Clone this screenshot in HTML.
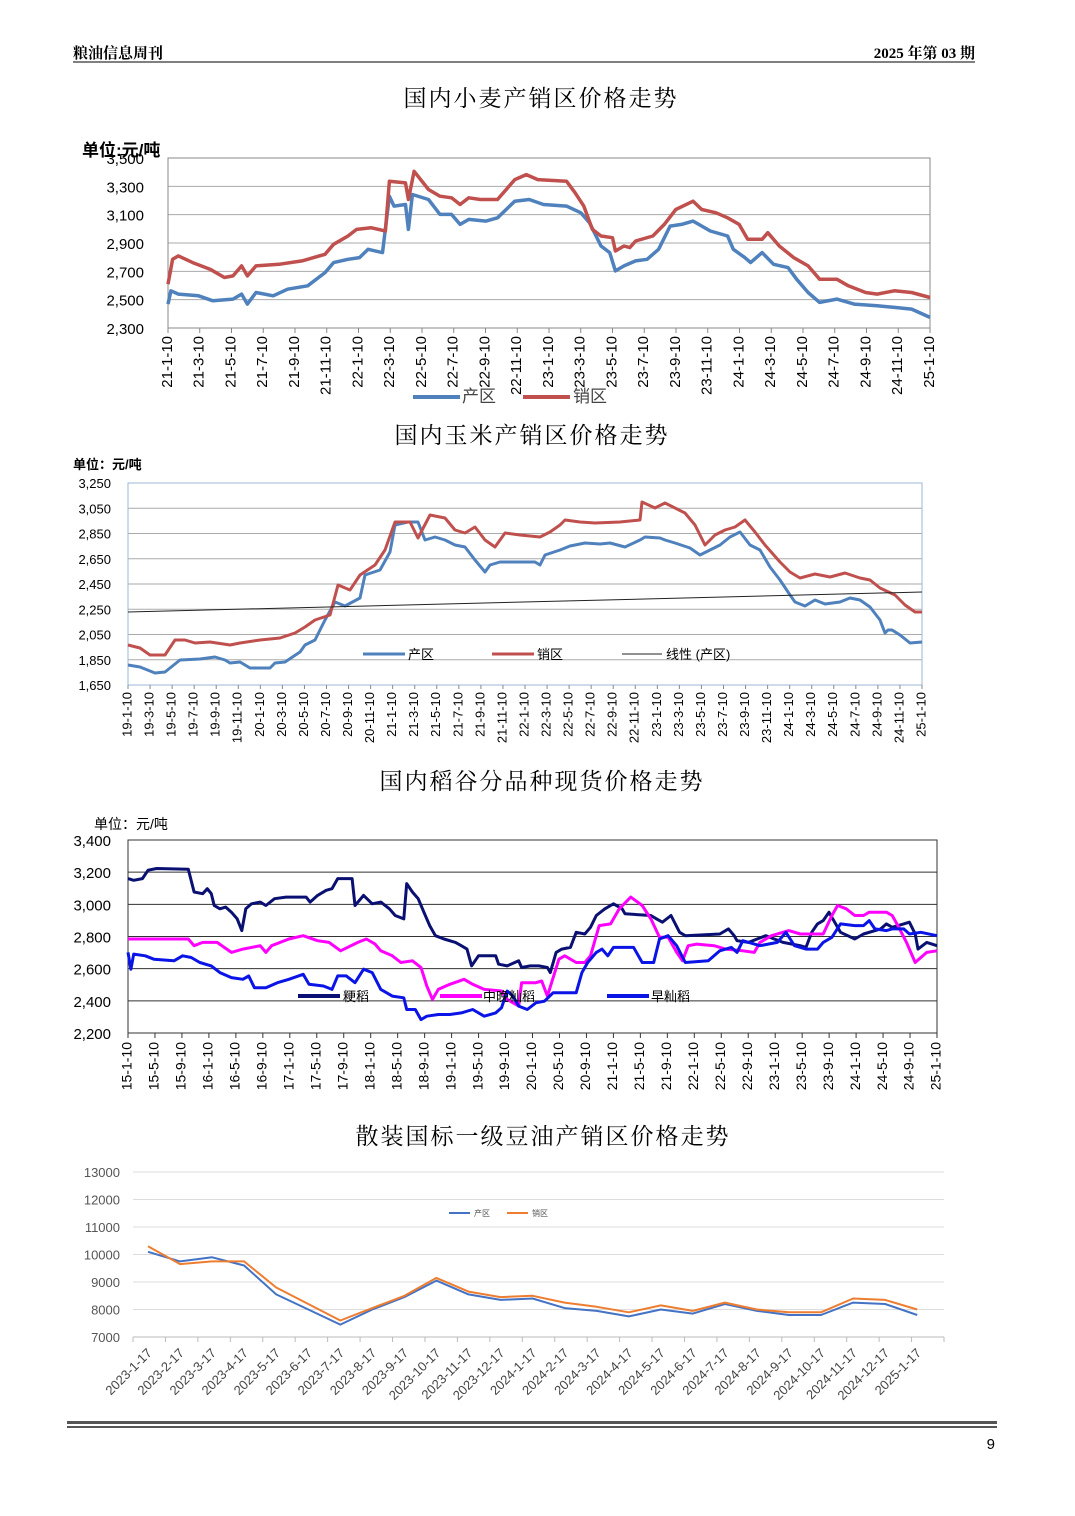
<!DOCTYPE html>
<html><head><meta charset="utf-8">
<style>
html,body{margin:0;padding:0;background:#fff;}
body{width:1075px;height:1516px;position:relative;overflow:hidden;font-family:"Liberation Sans","Noto Sans CJK SC",sans-serif;}
svg{position:absolute;left:0;top:0;}
</style></head><body>
<svg id="s" width="1075" height="1516" xmlns="http://www.w3.org/2000/svg" font-family="Liberation Sans, Noto Sans CJK SC, sans-serif">
<text x="73" y="58" font-size="15" font-weight="bold" font-family="Liberation Serif, Noto Serif CJK SC, serif">粮油信息周刊</text>
<text x="975" y="58" font-size="15" font-weight="bold" text-anchor="end" font-family="Liberation Serif, Noto Serif CJK SC, serif">2025 年第 03 期</text>
<line x1="73" y1="62" x2="975" y2="62" stroke="#000" stroke-width="1"/>
<text x="541" y="106" font-size="23" text-anchor="middle" font-family="Noto Serif CJK SC, serif" letter-spacing="2">国内小麦产销区价格走势</text>
<text x="532" y="443" font-size="23" text-anchor="middle" font-family="Noto Serif CJK SC, serif" letter-spacing="2">国内玉米产销区价格走势</text>
<text x="542" y="789" font-size="23" text-anchor="middle" font-family="Noto Serif CJK SC, serif" letter-spacing="2">国内稻谷分品种现货价格走势</text>
<text x="543" y="1144" font-size="23" text-anchor="middle" font-family="Noto Serif CJK SC, serif" letter-spacing="2">散装国标一级豆油产销区价格走势</text>
<g id="g"></g>
<rect x="67" y="1421" width="930" height="3" fill="#555"/>
<rect x="67" y="1426" width="930" height="2" fill="#555"/>
<text x="995" y="1449" font-size="15" text-anchor="end">9</text>
</svg>
<script>
var g=document.getElementById('g');var h='';
function lin(a0,a1,b0,b1){return function(v){return b0+(v-a0)*(b1-b0)/(a1-a0);};}
function poly(p,fx,fy,c,w){var s='';for(var i=0;i<p.length;i++){s+=fx(p[i][0]).toFixed(1)+','+fy(p[i][1]).toFixed(1)+' ';}
h+='<polyline points="'+s+'" fill="none" stroke="'+c+'" stroke-width="'+w+'" stroke-linejoin="round"/>';}
function t(x,y,s,o){h+='<text x="'+x+'" y="'+y+'" '+(o||'')+'>'+s+'</text>';}
function vt(x,y,s,fs){h+='<text transform="translate('+x+','+y+') rotate(-90)" font-size="'+fs+'" text-anchor="end" dominant-baseline="middle">'+s+'</text>';}

(function(){
var L=168,R=930,T=158,B=328;
for(var i=0;i<=6;i++){var y=T+i*(B-T)/6;h+='<line x1="'+L+'" y1="'+y+'" x2="'+R+'" y2="'+y+'" stroke="#aaa" stroke-width="1"/>';
t(144,y+6,(3500-i*200).toLocaleString('en-US'),'font-size="15" text-anchor="end"');}
h+='<rect x="'+L+'" y="'+T+'" width="'+(R-L)+'" height="'+(B-T)+'" fill="none" stroke="#888"/>';
var lb=['21-1-10','21-3-10','21-5-10','21-7-10','21-9-10','21-11-10','22-1-10','22-3-10','22-5-10','22-7-10','22-9-10','22-11-10','23-1-10','23-3-10','23-5-10','23-7-10','23-9-10','23-11-10','24-1-10','24-3-10','24-5-10','24-7-10','24-9-10','24-11-10','25-1-10'];
for(var i=0;i<lb.length;i++){var x=L+i*(R-L)/24;h+='<line x1="'+x+'" y1="'+B+'" x2="'+x+'" y2="'+(B+5)+'" stroke="#888"/>';vt(x,B+8,lb[i],15);}
var fx=lin(187,1512,L,R),fy=lin(55,567,T,B);
var red=[[187,435],[195,360],[205,350],[230,370],[260,390],[285,415],[300,410],[315,380],[325,410],[340,380],[380,375],[420,365],[460,345],[475,315],[500,290],[515,270],[540,265],[565,275],[572,125],[600,130],[605,180],[615,95],[640,150],[660,170],[680,175],[695,195],[710,175],[730,180],[760,180],[790,120],[810,105],[830,120],[880,125],[895,160],[910,200],[925,270],[940,290],[960,295],[965,335],[980,320],[990,325],[1000,305],[1030,290],[1050,255],[1070,210],[1100,185],[1115,210],[1140,220],[1160,235],[1180,255],[1195,300],[1220,300],[1230,280],[1250,320],[1275,355],[1300,380],[1320,420],[1350,420],[1370,440],[1400,460],[1420,465],[1450,455],[1480,460],[1512,475]];
var blue=[[187,495],[192,455],[205,465],[240,470],[265,485],[300,480],[315,465],[325,495],[340,460],[370,470],[395,450],[430,440],[460,400],[475,370],[500,360],[520,355],[535,330],[560,340],[572,170],[580,200],[600,195],[605,270],[612,165],[640,180],[660,225],[680,225],[695,255],[710,240],[740,245],[760,235],[790,185],[815,180],[840,195],[880,200],[905,220],[920,250],[940,320],[955,340],[965,395],[980,380],[1000,365],[1020,360],[1040,330],[1060,260],[1080,255],[1100,245],[1130,275],[1160,290],[1170,330],[1190,355],[1200,370],[1220,340],[1240,375],[1265,385],[1280,420],[1300,460],[1320,490],[1350,480],[1380,495],[1420,500],[1450,505],[1480,510],[1512,535]];
poly(blue,fx,fy,'#4f81bd',3.5);poly(red,fx,fy,'#c0504d',3.5);
t(82,156,'单位:元/吨','font-size="17" font-weight="bold"');
h+='<line x1="413" y1="397" x2="460" y2="397" stroke="#4f81bd" stroke-width="4"/>';t(462,402,'产区','font-size="17" fill="#444"');
h+='<line x1="523" y1="397" x2="570" y2="397" stroke="#c0504d" stroke-width="4"/>';t(573,402,'销区','font-size="17" fill="#444"');
})();

(function(){
var L=128,R=922,T=483,B=685;
for(var i=0;i<=8;i++){var y=T+i*(B-T)/8;h+='<line x1="'+L+'" y1="'+y+'" x2="'+R+'" y2="'+y+'" stroke="#aaa" stroke-width="1"/>';
t(111,y+5,(3250-i*200).toLocaleString('en-US'),'font-size="13" text-anchor="end"');}
h+='<rect x="'+L+'" y="'+T+'" width="'+(R-L)+'" height="'+(B-T)+'" fill="none" stroke="#9bb7d4"/>';
var lb=[];for(var yr=19;yr<=25;yr++){for(var m=1;m<=11;m+=2){if(yr==25&&m>1)break;lb.push(yr+'-'+m+'-10');}}
for(var i=0;i<lb.length;i++){var x=L+i*(R-L)/(lb.length-1);h+='<line x1="'+x+'" y1="'+B+'" x2="'+x+'" y2="'+(B+4)+'" stroke="#888"/>';vt(x,B+7,lb[i],13);}
var id=function(v){return v;};
var blue=[[128,665],[140,667],[155,673],[165,672],[180,660],[200,659],[215,657],[225,660],[230,663],[240,662],[250,668],[270,668],[275,663],[285,662],[300,652],[305,645],[315,640],[325,620],[335,602],[345,606],[360,598],[365,575],[380,570],[390,552],[395,525],[408,522],[418,522],[425,540],[435,537],[445,540],[455,545],[465,547],[475,560],[485,572],[490,565],[500,562],[515,562],[535,562],[540,565],[545,555],[560,550],[570,546],[585,543],[600,544],[610,543],[625,547],[640,540],[645,537],[660,538],[665,540],[675,543],[690,548],[700,555],[710,550],[720,545],[730,537],[740,532],[750,545],[760,550],[770,567],[780,580],[790,595],[795,602],[805,606],[815,600],[825,604],[840,602],[850,598],[860,600],[870,607],[880,620],[885,633],[888,630],[892,630],[900,635],[910,643],[922,642]];
var red=[[128,645],[140,648],[150,655],[165,655],[175,640],[185,640],[195,643],[210,642],[230,645],[240,643],[260,640],[280,638],[295,633],[305,627],[315,620],[330,615],[338,585],[350,590],[360,575],[375,565],[385,550],[395,522],[410,522],[418,538],[430,515],[445,518],[455,530],[465,533],[475,527],[485,540],[495,547],[505,533],[520,535],[540,537],[550,532],[560,525],[565,520],[580,522],[595,523],[620,522],[640,520],[642,502],[655,508],[665,503],[675,508],[685,513],[695,525],[705,545],[715,535],[725,530],[735,527],[745,520],[755,532],[765,545],[780,562],[790,572],[800,578],[815,574],[830,577],[845,573],[860,578],[870,580],[880,588],[895,595],[905,605],[915,612],[922,612]];
poly(blue,id,id,'#4f81bd',3);poly(red,id,id,'#c0504d',3);
h+='<line x1="128" y1="612" x2="922" y2="592" stroke="#222" stroke-width="1"/>';
t(73,469,'单位：元/吨','font-size="13" font-weight="bold"');
h+='<line x1="363" y1="654" x2="405" y2="654" stroke="#4f81bd" stroke-width="3"/>';t(408,659,'产区','font-size="13"');
h+='<line x1="492" y1="654" x2="534" y2="654" stroke="#c0504d" stroke-width="3"/>';t(537,659,'销区','font-size="13"');
h+='<line x1="622" y1="654" x2="662" y2="654" stroke="#222" stroke-width="1"/>';t(666,659,'线性 (产区)','font-size="13"');
})();

(function(){
var L=128,R=937,T=840,B=1033;
for(var i=0;i<=6;i++){var y=T+i*(B-T)/6;h+='<line x1="'+L+'" y1="'+y+'" x2="'+R+'" y2="'+y+'" stroke="#333" stroke-width="1"/>';
t(111,y+6,(3400-i*200).toLocaleString('en-US'),'font-size="15" text-anchor="end"');}
h+='<rect x="'+L+'" y="'+T+'" width="'+(R-L)+'" height="'+(B-T)+'" fill="none" stroke="#333"/>';
var lb=[];for(var yr=15;yr<=25;yr++){var ms=[1,5,9];for(var k=0;k<3;k++){if(yr==25&&k>0)break;lb.push(yr+'-'+ms[k]+'-10');}}
for(var i=0;i<lb.length;i++){var x=L+i*(R-L)/(lb.length-1);h+='<line x1="'+x+'" y1="'+B+'" x2="'+x+'" y2="'+(B+5)+'" stroke="#333"/>';vt(x,B+9,lb[i],14);}
var fx=lin(120,1528,L,R),fy=lin(95,670,T,B);
var navy=[[120,210],[130,215],[145,210],[155,185],[170,180],[225,182],[235,250],[250,255],[258,240],[265,255],[270,290],[280,300],[290,295],[300,310],[310,330],[318,365],[325,300],[335,285],[350,280],[360,290],[375,270],[395,265],[430,265],[437,280],[450,260],[465,245],[475,240],[485,210],[510,210],[515,290],[530,260],[545,285],[560,280],[575,300],[585,320],[600,330],[605,225],[615,250],[625,270],[635,310],[645,350],[655,380],[670,390],[690,400],[700,410],[710,420],[718,470],[730,440],[760,440],[765,465],[780,470],[800,455],[805,475],[820,470],[835,470],[850,475],[855,490],[865,430],[875,420],[890,415],[900,370],[915,375],[925,355],[935,320],[950,300],[965,285],[980,300],[985,315],[1030,320],[1040,330],[1050,340],[1065,320],[1080,370],[1090,380],[1150,375],[1165,360],[1175,380],[1180,395],[1200,400],[1215,390],[1230,380],[1260,400],[1290,410],[1300,415],[1310,370],[1320,345],[1330,335],[1340,310],[1350,340],[1360,370],[1385,390],[1400,375],[1430,360],[1440,345],[1450,355],[1470,345],[1480,340],[1490,375],[1495,420],[1510,400],[1528,410]];
var mag=[[120,390],[225,390],[235,410],[250,400],[275,400],[300,430],[320,420],[350,410],[360,430],[370,410],[400,390],[425,380],[450,395],[470,400],[490,425],[520,400],[535,390],[550,405],[560,425],[580,440],[595,460],[615,455],[630,475],[640,530],[650,570],[660,540],[680,525],[705,510],[720,525],[740,540],[770,545],[780,570],[800,590],[805,520],[830,520],[840,515],[850,560],[870,450],[880,440],[900,460],[915,460],[925,440],[940,350],[960,345],[975,300],[995,265],[1015,290],[1030,330],[1045,385],[1060,385],[1075,430],[1085,455],[1095,410],[1110,405],[1140,410],[1160,420],[1190,425],[1210,430],[1220,400],[1240,380],[1270,365],[1290,375],[1330,375],[1345,320],[1355,290],[1370,300],[1385,320],[1400,320],[1410,310],[1440,310],[1450,320],[1460,350],[1475,400],[1490,460],[1510,430],[1528,425]];
var bl=[[120,430],[125,480],[130,435],[150,440],[165,450],[200,455],[215,440],[230,445],[245,460],[265,470],[280,490],[300,505],[320,510],[330,500],[340,535],[360,535],[380,520],[400,510],[425,495],[435,525],[460,530],[475,540],[485,500],[500,500],[515,520],[530,480],[545,490],[560,540],[580,560],[600,565],[605,600],[620,600],[630,630],[640,620],[660,615],[680,615],[700,610],[720,600],[740,620],[760,610],[770,595],[780,545],[790,560],[800,590],[815,600],[830,580],[845,575],[860,550],[900,550],[910,490],[920,460],[935,430],[945,420],[955,440],[965,415],[1000,415],[1015,460],[1035,460],[1045,390],[1060,380],[1075,410],[1090,460],[1130,455],[1150,425],[1170,415],[1180,430],[1190,395],[1220,410],[1250,400],[1265,370],[1280,410],[1300,420],[1320,420],[1330,400],[1345,385],[1360,345],[1385,350],[1400,350],[1410,335],[1420,360],[1440,365],[1450,360],[1470,360],[1480,375],[1500,370],[1528,380]];
poly(navy,fx,fy,'#0a1072',3);poly(mag,fx,fy,'#ff00ff',3);poly(bl,fx,fy,'#0a14e6',3);
t(94,829,'单位：元/吨','font-size="14"');
h+='<line x1="298" y1="996" x2="340" y2="996" stroke="#0a1072" stroke-width="4"/>';t(343,1001,'粳稻','font-size="13"');
h+='<line x1="440" y1="996" x2="482" y2="996" stroke="#ff00ff" stroke-width="4"/>';t(483,1001,'中晚籼稻','font-size="13"');
h+='<line x1="607" y1="996" x2="649" y2="996" stroke="#0a14e6" stroke-width="4"/>';t(651,1001,'早籼稻','font-size="13"');
})();

(function(){
var L=133,R=944,T=1172,B=1337;
for(var i=0;i<=6;i++){var y=T+i*(B-T)/6;h+='<line x1="'+L+'" y1="'+y+'" x2="'+R+'" y2="'+y+'" stroke="'+(i==6?'#bbb':'#ddd')+'" stroke-width="1"/>';
t(120,y+5,(13000-i*1000),'font-size="13" fill="#555" text-anchor="end"');}
var fy=lin(13000,7000,T,B),fx=function(i){return 148+i*32.05;};
var lbl=[];for(var i=0;i<25;i++){var yy=2023+Math.floor(i/12),m=i%12+1;lbl.push(yy+'-'+m+'-17');}
for(var i=0;i<=25;i++){var x=L+i*(R-L)/25;h+='<line x1="'+x+'" y1="'+B+'" x2="'+x+'" y2="'+(B+5)+'" stroke="#bbb"/>';}
for(var i=0;i<25;i++){var x=fx(i)-2;h+='<text transform="translate('+x+','+(B+10)+') rotate(-45)" font-size="13" fill="#444" text-anchor="end" dominant-baseline="hanging">'+lbl[i]+'</text>';}
var b=[10100,9750,9900,9600,8550,8000,7450,8000,8450,9050,8550,8350,8400,8050,7950,7750,8000,7850,8200,7950,7800,7800,8250,8200,7800];
var r=[10300,9650,9750,9750,8800,8200,7600,8050,8500,9150,8650,8450,8500,8250,8100,7900,8150,7950,8250,8000,7900,7900,8400,8350,8000];
var pb=[],pr=[];for(var i=0;i<25;i++){pb.push([i,b[i]]);pr.push([i,r[i]]);}
poly(pb,fx,fy,'#4472c4',2);poly(pr,fx,fy,'#ed7d31',2);
h+='<line x1="449" y1="1213" x2="470" y2="1213" stroke="#4472c4" stroke-width="2"/>';t(474,1216,'产区','font-size="8" fill="#555"');
h+='<line x1="507" y1="1213" x2="528" y2="1213" stroke="#ed7d31" stroke-width="2"/>';t(532,1216,'销区','font-size="8" fill="#555"');
})();
g.innerHTML=h;
</script>
</body></html>
